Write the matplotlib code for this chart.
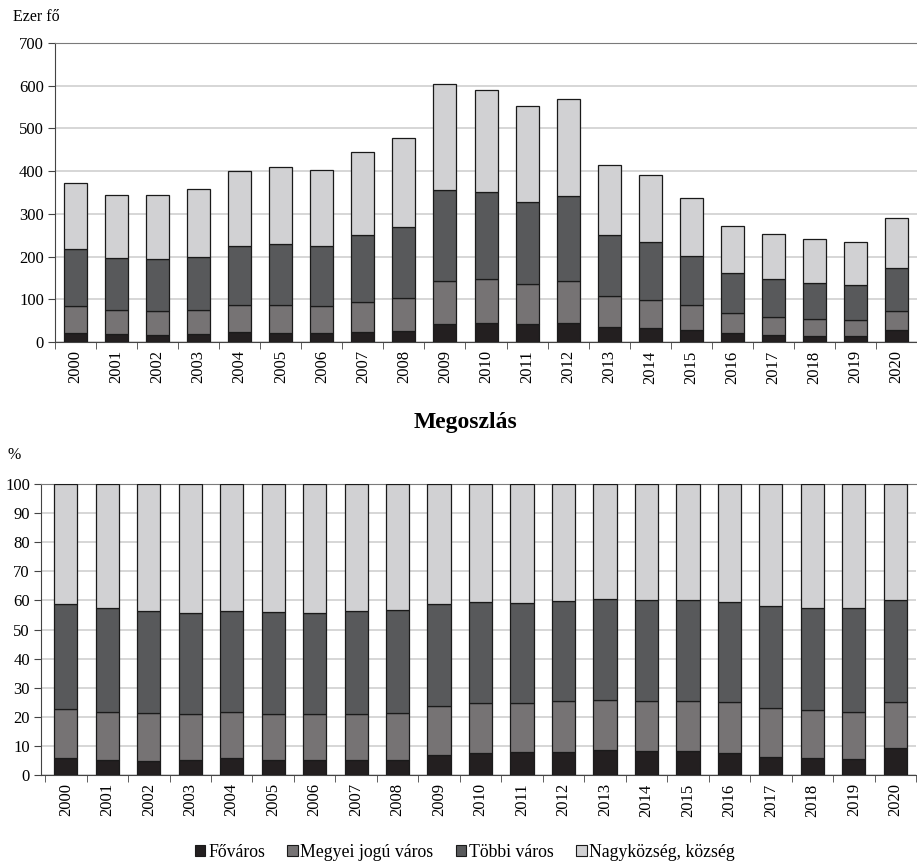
import numpy as np
import matplotlib
matplotlib.use("Agg")
import matplotlib.pyplot as plt
from matplotlib.patches import Patch

plt.rcParams['font.family'] = ['Liberation Serif', 'DejaVu Serif']

years = [str(y) for y in range(2000, 2021)]

# thousand persons
fovaros = [22, 18, 17, 19, 23, 21, 21, 23, 25, 42, 45, 43, 45, 36, 32, 28, 21, 16, 14, 13, 27]
megyei = [62, 56, 56, 56, 63, 65, 63, 70, 77, 102, 102, 93, 99, 71, 67, 58, 47, 42, 40, 38, 46]
tobbi = [134, 123, 121, 125, 139, 143, 141, 157, 168, 211, 204, 191, 197, 143, 135, 116, 94, 89, 84, 83, 101]
nagykozseg = [154, 146, 150, 159, 175, 181, 178, 194, 207, 250, 240, 225, 228, 164, 156, 134, 110, 106, 103, 100, 116]

labels = ['Főváros', 'Megyei jogú város', 'Többi város', 'Nagyközség, község']
colors = ['#231f20', '#767374', '#58595b', '#d1d1d3']

series = np.array([fovaros, megyei, tobbi, nagykozseg], dtype=float)
shares = series / series.sum(axis=0) * 100

x = np.arange(len(years))
width = 0.56

fig = plt.figure(figsize=(9.17, 8.65), dpi=100)
ax1 = fig.add_axes([0.060, 0.6046, 0.94, 0.3457])
ax2 = fig.add_axes([0.0447, 0.1040, 0.9542, 0.3365])


def draw(ax, data, ymax, step, xlim):
    bottom = np.zeros(len(years))
    for vals, c in zip(data, colors):
        ax.bar(x, vals, width, bottom=bottom, color=c, edgecolor='#1a1a1a',
               linewidth=0.9, zorder=3)
        bottom += vals
    ax.set_ylim(0, ymax)
    ax.set_yticks(np.arange(0, ymax + 1, step))
    ax.set_xlim(*xlim)
    ax.set_xticks(x)
    ax.set_xticklabels(years, rotation=90, fontsize=12)
    ax.set_xticks(np.arange(-0.5, 21, 1), minor=True)
    ax.tick_params(axis='x', which='major', length=0, pad=6)
    ax.tick_params(axis='x', which='minor', length=5, direction='out', color='#444444')
    ax.tick_params(axis='y', length=5, direction='out', labelsize=12, color='#444444', pad=3)
    ax.grid(axis='y', color='#d0d0d0', linewidth=1.2, zorder=0)
    ax.spines['right'].set_visible(False)
    ax.spines['top'].set_color('#7a7a7a')
    ax.spines['left'].set_color('#444444')
    ax.spines['bottom'].set_color('#444444')


draw(ax1, series, 700, 100, (-0.5, 20.26))
draw(ax2, shares, 100, 10, (-0.6, 20.34))

fig.text(0.014, 0.980, 'Ezer fő', fontsize=11.5, va='center', ha='left')
fig.text(0.008, 0.474, '%', fontsize=11.5, va='center', ha='left')
fig.text(0.508, 0.511, 'Megoszlás', fontsize=17, fontweight='bold', ha='center', va='center')

handles = [Patch(facecolor=c, edgecolor='#1a1a1a', linewidth=0.8) for c in colors]
fig.legend(handles, labels, loc='center', bbox_to_anchor=(0.507, 0.015), ncol=4,
           frameon=False, fontsize=12.8, handlelength=0.6, handleheight=0.6,
           handletextpad=0.15, columnspacing=1.25)

fig.savefig('out.png', dpi=100)
